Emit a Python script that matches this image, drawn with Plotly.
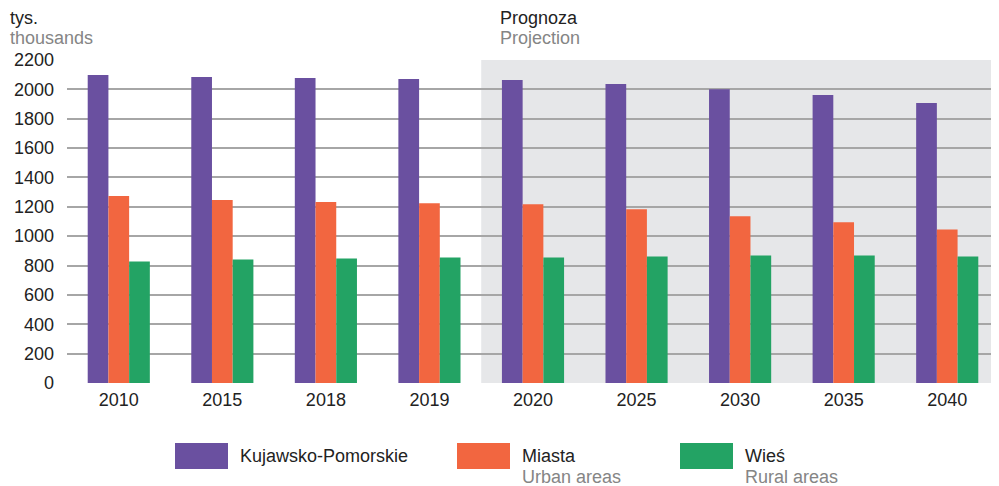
import plotly.graph_objects as go

years = ["2010", "2015", "2018", "2019", "2020", "2025", "2030", "2035", "2040"]
kujawsko = [2098, 2084, 2077, 2070, 2063, 2036, 2000, 1962, 1907]
miasta = [1273, 1246, 1232, 1225, 1218, 1184, 1136, 1095, 1046]
wies = [827, 841, 848, 855, 855, 861, 868, 868, 861]
y_ticks = [0, 200, 400, 600, 800, 1000, 1200, 1400, 1600, 1800, 2000, 2200]

series = [
    ("Kujawsko-Pomorskie", "", kujawsko, "#6a50a0"),
    ("Miasta", "Urban areas", miasta, "#f26640"),
    ("Wieś", "Rural areas", wies, "#23a364"),
]

FONT = "Liberation Sans, Arial, sans-serif"
FS = 18
DARK = "#222222"
GREY = "#858585"

fig = go.Figure()
for name, en, vals, col in series:
    fig.add_trace(go.Bar(x=years, y=vals, name=name, marker=dict(color=col, line=dict(width=0)),
                         showlegend=False))

# page body has an 8px margin: figure is sized so the page fills 999x486
fig.update_layout(
    width=991, height=478,
    margin=dict(l=59, r=0, t=52, b=103),
    paper_bgcolor="white", plot_bgcolor="white",
    barmode="group", bargap=0.4, bargroupgap=0,
    font=dict(family=FONT, size=FS, color=DARK),
)
fig.update_xaxes(type="category", range=[-0.5, 8.5], showgrid=False, ticks="",
                 showline=False, zeroline=False, tickfont=dict(size=FS, color=DARK),
                 ticklabelstandoff=4)
fig.update_yaxes(range=[0, 2200], tickvals=y_ticks, showgrid=True, gridcolor="#a6a6a6",
                 gridwidth=1.5, zeroline=False, showline=False, ticks="",
                 tickfont=dict(size=FS, color=DARK), ticklabelstandoff=12)

# projection shading
fig.add_shape(type="rect", xref="x", yref="paper", x0=3.5, x1=8.5, y0=0, y1=1,
              fillcolor="#e6e7e9", line=dict(width=0), layer="below")

def px(X):
    return (X - 67) / 932

def py(Y):
    return (383 - Y) / 323

# headers
for X, top, bottom in [(9, "tys.", "thousands"), (499, "Prognoza", "Projection")]:
    fig.add_annotation(text=top, xref="paper", yref="paper", x=px(X), y=py(18),
                       xanchor="left", yanchor="middle", showarrow=False, borderpad=0,
                       font=dict(size=FS, color=DARK))
    fig.add_annotation(text=bottom, xref="paper", yref="paper", x=px(X), y=py(38),
                       xanchor="left", yanchor="middle", showarrow=False, borderpad=0,
                       font=dict(size=FS, color=GREY))

# legend (drawn in paper coordinates)
leg_x = [175, 457, 680]
for (name, en, vals, col), lx in zip(series, leg_x):
    fig.add_shape(type="rect", xref="paper", yref="paper",
                  x0=px(lx), x1=px(lx + 53), y0=py(469), y1=py(443),
                  fillcolor=col, line=dict(width=0))
    fig.add_annotation(text=name, xref="paper", yref="paper", x=px(lx + 63),
                       y=py(456), xanchor="left", yanchor="middle", showarrow=False,
                       font=dict(size=FS, color=DARK))
    if en:
        fig.add_annotation(text=en, xref="paper", yref="paper", x=px(lx + 63),
                           y=py(477), xanchor="left", yanchor="middle", showarrow=False,
                           font=dict(size=FS, color=GREY))

fig.write_html("out.html")
